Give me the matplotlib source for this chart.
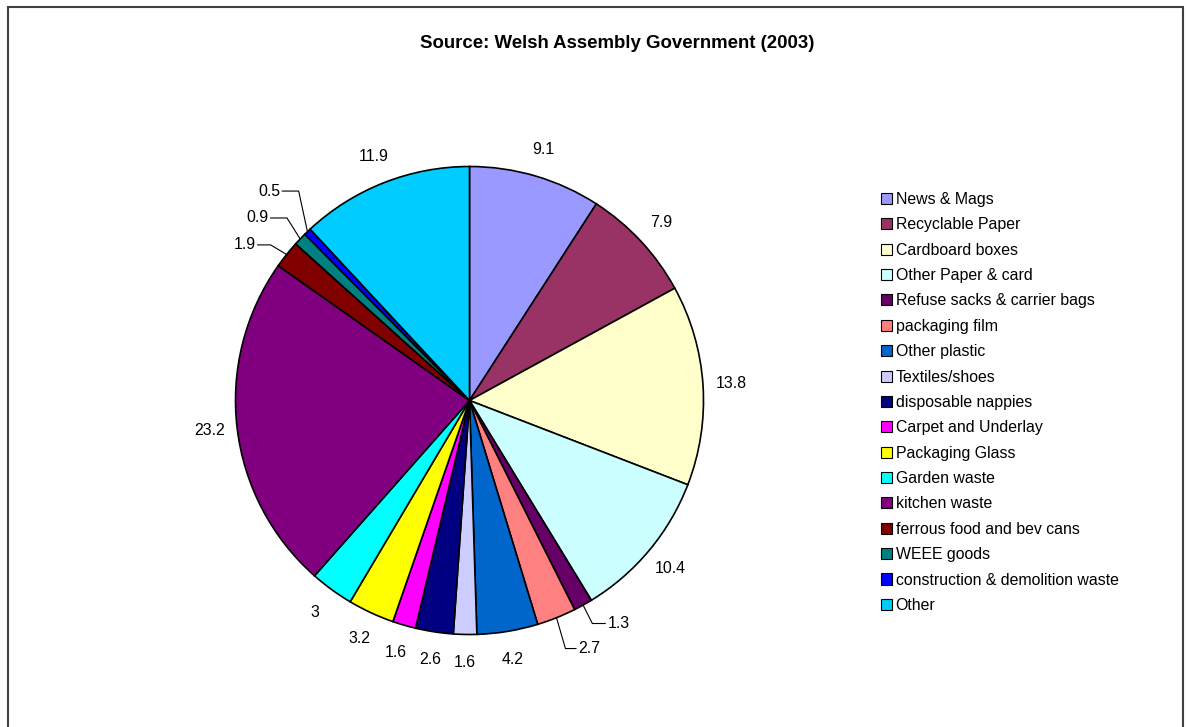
import numpy as np
import matplotlib
matplotlib.use("Agg")
import matplotlib.pyplot as plt
from matplotlib.patches import Patch, Rectangle

plt.rcParams['font.family'] = ['Liberation Sans', 'DejaVu Sans']

categories = ["News & Mags", "Recyclable Paper", "Cardboard boxes", "Other Paper & card",
              "Refuse sacks & carrier bags", "packaging film", "Other plastic", "Textiles/shoes",
              "disposable nappies", "Carpet and Underlay", "Packaging Glass", "Garden waste",
              "kitchen waste", "ferrous food and bev cans", "WEEE goods",
              "construction & demolition waste", "Other"]
values = [9.1, 7.9, 13.8, 10.4, 1.3, 2.7, 4.2, 1.6, 2.6, 1.6, 3.2, 3, 23.2, 1.9, 0.9, 0.5, 11.9]
value_labels = ["9.1", "7.9", "13.8", "10.4", "1.3", "2.7", "4.2", "1.6", "2.6", "1.6",
                "3.2", "3", "23.2", "1.9", "0.9", "0.5", "11.9"]
colors = ["#9999FF", "#993366", "#FFFFCC", "#CCFFFF", "#660066", "#FF8080", "#0066CC",
          "#CCCCFF", "#000080", "#FF00FF", "#FFFF00", "#00FFFF", "#800080", "#800000",
          "#008080", "#0000FF", "#00CCFF"]

# labels moved off the slice with a leader line: index -> (elbow xy, text xy, ha)
leaders = {
    4: ((0.525, -0.953), (0.59, -0.953), "left"),
    5: ((0.41, -1.06), (0.465, -1.06), "left"),
    13: ((-0.85, 0.665), (-0.915, 0.665), "right"),
    14: ((-0.78, 0.78), (-0.86, 0.78), "right"),
    15: ((-0.73, 0.895), (-0.81, 0.895), "right"),
}

W, H = 1187, 727
fs = 11.4
fig = plt.figure(figsize=(W / 100, H / 100), dpi=100)

cx, cy, R = 469.5, 400.5, 234
ax = fig.add_axes([(cx - R) / W, (H - cy - R) / H, 2 * R / W, 2 * R / H])
wedges, _ = ax.pie(values, colors=colors, startangle=90, counterclock=False,
                   wedgeprops=dict(edgecolor="black", linewidth=1.2))
ax.set_xlim(-1, 1)
ax.set_ylim(-1, 1)

for i, w in enumerate(wedges):
    mid = np.deg2rad((w.theta1 + w.theta2) / 2)
    c, s = np.cos(mid), np.sin(mid)
    if i in leaders:
        (ex, ey), (tx, ty), ha = leaders[i]
        ax.plot([c, ex, tx - (0.01 if ha == "left" else -0.01)], [s, ey, ty],
                color="black", lw=0.8, clip_on=False)
        ax.text(tx, ty, value_labels[i], ha=ha, va="center", fontsize=fs)
    else:
        ax.text(1.12 * c, 1.12 * s, value_labels[i], ha="center", va="center", fontsize=fs)

fig.text(617 / W, 1 - 44 / H, "Source: Welsh Assembly Government (2003)", ha="center",
         va="center", fontsize=13.4, fontweight="bold")

handles = [Patch(facecolor=col, edgecolor="black", linewidth=0.8) for col in colors]
fig.legend(handles, categories, loc="upper left", bbox_to_anchor=(881 / W, 1 - 192 / H),
           frameon=False, fontsize=fs, handlelength=0.7, handleheight=0.7,
           handletextpad=0.22, labelspacing=0.655, borderpad=0, borderaxespad=0)

fig.patches.append(Rectangle((7.5 / W, -0.01), (1183 - 7.5) / W, 1 - 6.5 / H + 0.01,
                             transform=fig.transFigure, fill=False,
                             edgecolor="#404040", linewidth=1.5))

fig.savefig("out.png", dpi=100)
